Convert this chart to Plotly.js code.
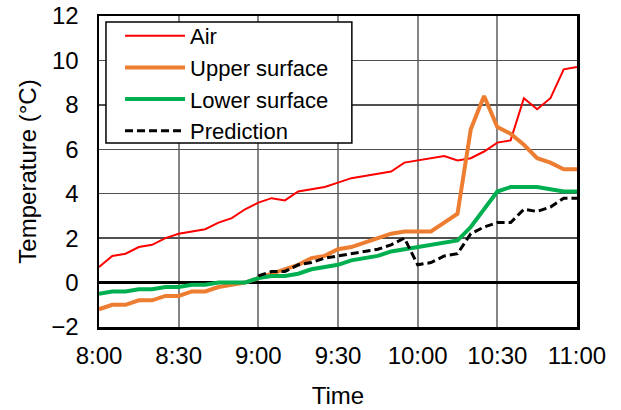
<!DOCTYPE html>
<html>
<head>
<meta charset="utf-8">
<script src="https://cdn.plot.ly/plotly-3.0.1.min.js"></script>
<style>html,body{margin:0;padding:0;background:#fff;}#chart{width:621px;height:410px;}</style>
</head>
<body>
<div id="chart"></div>
<script>
var times = ["8:00","8:05","8:10","8:15","8:20","8:25","8:30","8:35","8:40","8:45","8:50","8:55",
             "9:00","9:05","9:10","9:15","9:20","9:25","9:30","9:35","9:40","9:45","9:50","9:55",
             "10:00","10:05","10:10","10:15","10:20","10:25","10:30","10:35","10:40","10:45","10:50","10:55","11:00"];
var air = [0.7,1.2,1.3,1.6,1.7,2.0,2.2,2.3,2.4,2.7,2.9,3.3,
           3.6,3.8,3.7,4.1,4.2,4.3,4.5,4.7,4.8,4.9,5.0,5.4,
           5.5,5.6,5.7,5.5,5.6,5.9,6.3,6.4,8.3,7.8,8.3,9.6,9.7];
var upper = [-1.2,-1.0,-1.0,-0.8,-0.8,-0.6,-0.6,-0.4,-0.4,-0.2,-0.1,0.0,
             0.2,0.4,0.6,0.8,1.1,1.2,1.5,1.6,1.8,2.0,2.2,2.3,
             2.3,2.3,2.7,3.1,6.9,8.4,7.0,6.7,6.2,5.6,5.4,5.1,5.1];
var lower = [-0.5,-0.4,-0.4,-0.3,-0.3,-0.2,-0.2,-0.1,-0.1,0.0,0.0,0.0,
             0.2,0.3,0.3,0.4,0.6,0.7,0.8,1.0,1.1,1.2,1.4,1.5,
             1.6,1.7,1.8,1.9,2.5,3.3,4.1,4.3,4.3,4.3,4.2,4.1,4.1];
var predTimes = ["9:00","9:05","9:10","9:15","9:20","9:25","9:30","9:35","9:40","9:45","9:50","9:55",
                 "10:00","10:05","10:10","10:15","10:20","10:25","10:30","10:35","10:40","10:45","10:50","10:55","11:00"];
var prediction = [0.3,0.5,0.5,0.8,0.9,1.1,1.2,1.3,1.4,1.5,1.7,2.0,
                  0.8,0.9,1.2,1.3,2.2,2.5,2.7,2.7,3.3,3.2,3.4,3.8,3.8];
var tickLabels = ["8:00","8:30","9:00","9:30","10:00","10:30","11:00"];
var yTicks = [-2,0,2,4,6,8,10,12];

function toMin(t){var p=t.split(":");return (+p[0])*60+(+p[1]);}
var x = times.map(toMin);
var xp = predTimes.map(toMin);
var tickVals = tickLabels.map(toMin);

var traces = [
  {x:x, y:air, name:"Air", mode:"lines", line:{color:"#FF0000", width:2}},
  {x:x, y:upper, name:"Upper surface", mode:"lines", line:{color:"#ED7D31", width:4}},
  {x:x, y:lower, name:"Lower surface", mode:"lines", line:{color:"#00B050", width:4}},
  {x:xp, y:prediction, name:"Prediction", mode:"lines", line:{color:"#000000", width:3, dash:"8px,4px"}}
];
var ff = "Liberation Sans, Arial, sans-serif";
var layout = {
  width:621, height:410,
  margin:{l:99, r:44, t:16, b:83},
  paper_bgcolor:"#fff", plot_bgcolor:"#fff",
  font:{family:ff, color:"#000"},
  showlegend:true,
  legend:{x:0.044, y:1.003, xanchor:"left", yanchor:"top", bgcolor:"rgba(0,0,0,0)", borderwidth:0,
          font:{family:ff, size:22, color:"#000"}, itemwidth:60, tracegroupgap:0},
  shapes:[{type:"rect", xref:"paper", yref:"paper", x0:0.0146, x1:0.529, y0:0.592, y1:0.981,
           line:{color:"#000", width:1.5}, fillcolor:"#fff", layer:"above"}],
  xaxis:{range:[toMin("8:00"), toMin("11:00")], tickvals:tickVals, ticktext:tickLabels,
         showgrid:true, gridcolor:"#858585", gridwidth:2, zeroline:false,
         showline:true, linecolor:"#000", linewidth:2.5, mirror:true, ticks:"", ticklabelstandoff:6,
         tickfont:{family:ff, size:24, color:"#000"},
         title:{text:"Time", font:{family:ff, size:24, color:"#000"}, standoff:19}},
  yaxis:{range:[-2,12], tickvals:yTicks, showgrid:true, gridcolor:"#505050", gridwidth:1.3,
         zeroline:true, zerolinecolor:"#000", zerolinewidth:2.5,
         showline:true, linecolor:"#000", linewidth:2.5, mirror:true, ticks:"", ticklabelstandoff:13,
         tickfont:{family:ff, size:24, color:"#000"},
         title:{text:"Temperature (°C)", font:{family:ff, size:24, color:"#000"}, standoff:8}}
};
Plotly.newPlot("chart", traces, layout, {displayModeBar:false, staticPlot:true});
</script>
</body>
</html>
